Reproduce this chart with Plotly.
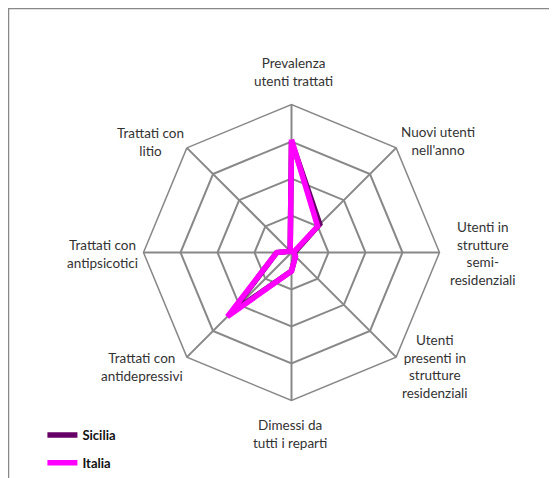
import plotly.graph_objects as go

categorie = [
    "Prevalenza utenti trattati",
    "Nuovi utenti nell'anno",
    "Utenti in strutture semi-residenziali",
    "Utenti presenti in strutture residenziali",
    "Dimessi da tutti i reparti",
    "Trattati con antidepressivi",
    "Trattati con antipsicotici",
    "Trattati con litio",
]
sicilia = [3.0, 1.08, 0.08, 0.15, 0.5, 2.3, 0.4, 0.05]
italia = [3.05, 1.0, 0.05, 0.15, 0.5, 2.45, 0.4, 0.05]

# etichette come nel grafico originale (testo a capo)
etichette = [
    ("Prevalenza<br>utenti trattati", 293, 72),
    ("Nuovi utenti<br>nell'anno", 438, 141),
    ("Utenti in<br>strutture<br>semi-<br>residenziali", 483, 254),
    ("Utenti<br>presenti in<br>strutture<br>residenziali", 435, 366),
    ("Dimessi da<br>tutti i reparti", 290, 434),
    ("Trattati con<br>antidepressivi", 142, 367),
    ("Trattati con<br>antipsicotici", 102, 254),
    ("Trattati con<br>litio", 150, 142),
]

W, H = 557, 478
OFF = 8  # margine della pagina
cx, cy, R = 291.5 - OFF, 252.5 - OFF, 148

fig = go.Figure()
fig.add_trace(go.Scatterpolar(
    r=sicilia + sicilia[:1],
    theta=categorie + categorie[:1],
    mode="lines",
    name="<b>Sicilia</b>",
    legendgroup="a",
    line=dict(color="#660066", width=5.5),
))
fig.add_trace(go.Scatterpolar(
    r=italia + italia[:1],
    theta=categorie + categorie[:1],
    mode="lines",
    name="<b>Italia</b>",
    legendgroup="b",
    line=dict(color="#FF00FF", width=5.5),
))

for testo, x, y in etichette:
    fig.add_annotation(
        text=testo, x=(x - OFF) / W, y=1 - (y - OFF) / H,
        xref="paper", yref="paper",
        showarrow=False, xanchor="center", yanchor="middle", align="center",
        font=dict(size=13.5, color="#333333"),
    )

fig.add_shape(type="line", xref="paper", yref="paper",
              x0=0, x1=1, y0=1, y1=1,
              line=dict(color="#888888", width=2.5))
fig.add_shape(type="line", xref="paper", yref="paper",
              x0=0, x1=0, y0=0, y1=1,
              line=dict(color="#888888", width=2.5))

fig.update_layout(
    width=W, height=H,
    margin=dict(l=0, r=0, t=0, b=0),
    paper_bgcolor="white",
    font=dict(family="Lato, sans-serif", color="#333333"),
    polar=dict(
        domain=dict(x=[(cx - R) / W, (cx + R) / W],
                    y=[1 - (cy + R) / H, 1 - (cy - R) / H]),
        gridshape="linear",
        bgcolor="white",
        radialaxis=dict(range=[0, 4], dtick=1, showticklabels=False,
                        ticks="", showline=False,
                        gridcolor="#888888", gridwidth=1.5),
        angularaxis=dict(rotation=90, direction="clockwise",
                         showticklabels=False, ticks="",
                         gridcolor="#888888", gridwidth=1.5,
                         linecolor="#888888", linewidth=1.5),
    ),
    showlegend=True,
    legend=dict(x=0.06 + 1 / W, y=OFF / H, xanchor="left", yanchor="bottom",
                tracegroupgap=8, bgcolor="rgba(0,0,0,0)",
                font=dict(size=13, color="#111111", family="Lato, sans-serif")),
)

fig.write_html("out.html")
